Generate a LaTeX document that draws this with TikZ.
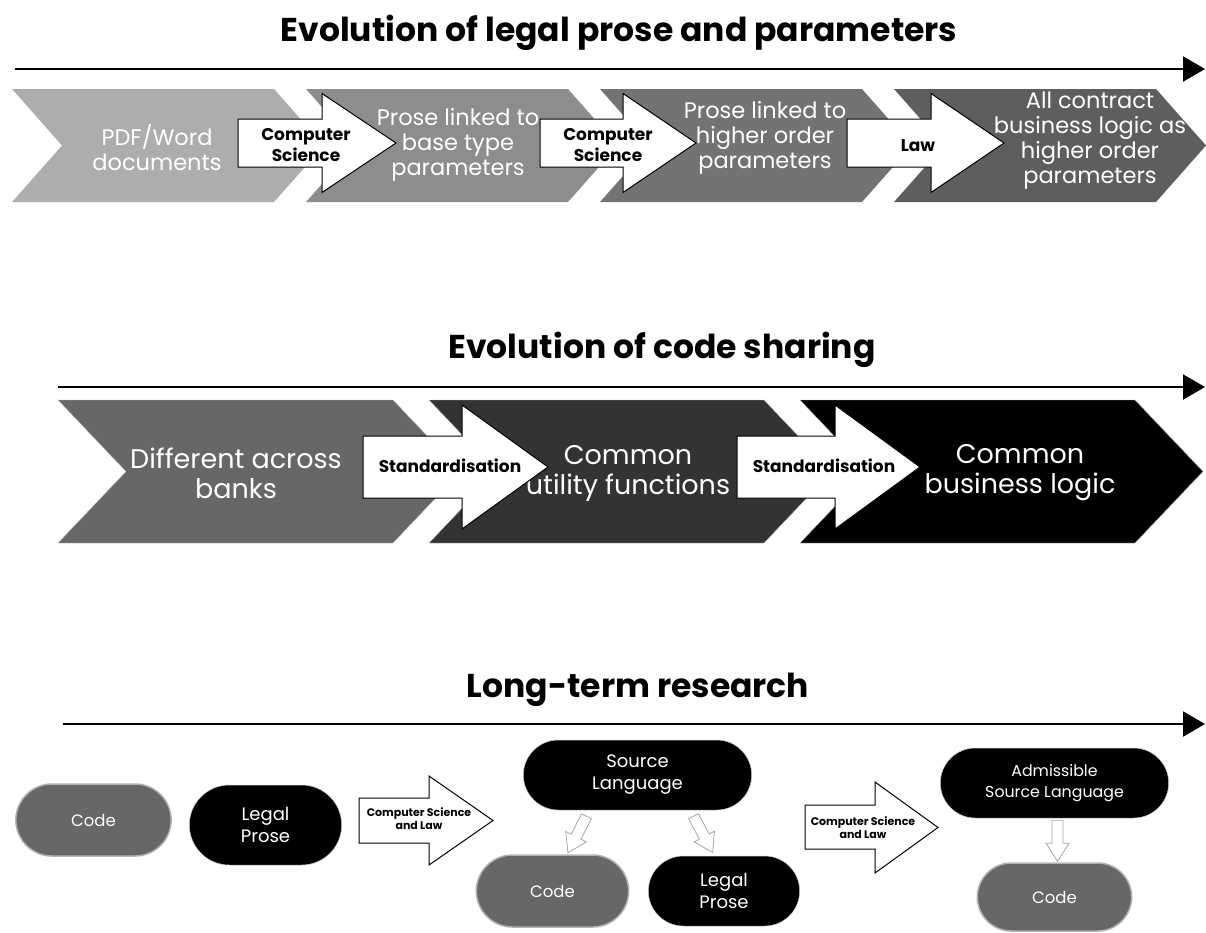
\documentclass[tikz,border=0pt]{standalone}
\usepackage{fontspec}
\setmainfont{Poppins}
\usetikzlibrary{arrows.meta, positioning, shapes.misc, calc}

\definecolor{chevA}{HTML}{ADADAD}
\definecolor{chevB}{HTML}{8D8D8D}
\definecolor{chevC}{HTML}{737373}
\definecolor{chevD}{HTML}{5E5E5E}
\definecolor{codegray}{HTML}{676767}
\definecolor{darkgray}{HTML}{333333}

\begin{document}
\begin{tikzpicture}[x=1pt, y=-1pt, font=\fontsize{20}{25}\selectfont]
\tikzstyle{title} = [font=\fontsize{33}{38}\selectfont\bfseries]
\tikzstyle{timeline} = [line width=2pt, -{Triangle[length=22pt, width=25pt]}]
\tikzstyle{chevtext} = [text=white, align=center, font=\fontsize{22.5}{25}\selectfont]
\tikzstyle{bigtext} = [text=white, align=center, font=\fontsize{27}{30}\selectfont]
\tikzstyle{blockarrow} = [draw=black, fill=white, line width=1pt]
\tikzstyle{label} = [align=center, font=\fontsize{17}{21}\selectfont\bfseries]
\tikzstyle{smalllabel} = [align=center, font=\fontsize{11}{13}\selectfont\bfseries]
\tikzstyle{codepill} = [rounded rectangle, fill=codegray, draw=gray!60, line width=1.5pt,
    text=white, font=\fontsize{16.5}{22}\selectfont]
\tikzstyle{prosepill} = [rounded rectangle, fill=black, draw=gray!40, line width=0.5pt,
    text=white, align=center, font=\fontsize{18}{22}\selectfont]
\tikzstyle{hollow} = [draw=gray!70, fill=white, line width=0.8pt]
\tikzset{hollowarrow/.pic={
  \draw[hollow] (-5.5,0) -- (5.5,0) -- (5.5,23) -- (11.5,23) -- (0,41)
    -- (-11.5,23) -- (-5.5,23) -- cycle;
}}

\useasboundingbox (0,0) rectangle (1206,932);

% legal prose
\node[title] (title1) at (619,33) {Evolution of legal prose and parameters};
\coordinate (line1start) at (15,69);
\coordinate (line1end) at (1205,69);
\draw[timeline] (line1start) -- (line1end);

\fill[chevA] (12,89) -- (274,89) -- (324,145.5) -- (274,202) -- (12,202) -- (62,145.5) -- cycle;
\fill[chevB] (306,89) -- (568,89) -- (618,145.5) -- (568,202) -- (306,202) -- (356,145.5) -- cycle;
\fill[chevC] (600,89) -- (862,89) -- (912,145.5) -- (862,202) -- (600,202) -- (650,145.5) -- cycle;
\fill[chevD] (894,89) -- (1156,89) -- (1206,145.5) -- (1156,202) -- (894,202) -- (944,145.5) -- cycle;

\node[chevtext] (pdf) at (157,147) {PDF/Word\\documents};
\node[chevtext] (base) at (458,145) {Prose linked to\\base type\\parameters};
\node[chevtext] (higher) at (765,138) {Prose linked to\\higher order\\parameters};
\node[chevtext] (logic) at (1090,141) {All contract\\business logic as\\higher order\\parameters};

\draw[blockarrow] (238,119) -- (322,119) -- (322,93.5) -- (396,143) -- (322,192.5) -- (322,167) -- (238,167) -- cycle;
\draw[blockarrow] (540,119) -- (623,119) -- (623,93.5) -- (696,143) -- (623,192.5) -- (623,167) -- (540,167) -- cycle;
\draw[blockarrow] (847,119) -- (931,119) -- (931,93.5) -- (1004,143) -- (931,192.5) -- (931,167) -- (847,167) -- cycle;

\node[label] (cs1) at (306,145) {Computer\\Science};
\node[label] (cs2) at (608,145) {Computer\\Science};
\node[label] (law) at (918,146) {Law};

% code sharing
\node[title] (title2) at (662,350) {Evolution of code sharing};
\coordinate (line2start) at (58,387);
\coordinate (line2end) at (1205,387);
\draw[timeline] (line2start) -- (line2end);

\fill[codegray, draw=gray!50] (58,400) -- (393,400) -- (461,471.5) -- (393,543) -- (58,543) -- (126,471.5) -- cycle;
\fill[darkgray, draw=gray!50] (429,400) -- (764,400) -- (832,471.5) -- (764,543) -- (429,543) -- (497,471.5) -- cycle;
\fill[black, draw=gray!50] (800,400) -- (1135,400) -- (1203,471.5) -- (1135,543) -- (800,543) -- (868,471.5) -- cycle;

\node[bigtext] (banks) at (236,473) {Different across\\banks};
\node[bigtext] (utility) at (628,473) {Common\\utility functions};
\node[bigtext] (business) at (1020,473) {Common\\business logic};

\draw[blockarrow] (363,436) -- (462,436) -- (462,405) -- (548,467) -- (462,529) -- (462,498) -- (363,498) -- cycle;
\draw[blockarrow] (737,436) -- (835,436) -- (835,405) -- (920,467) -- (835,529) -- (835,498) -- (737,498) -- cycle;

\node[label] (std1) at (450,466) {Standardisation};
\node[label] (std2) at (824,466) {Standardisation};

% research
\node[title] (title3) at (638,690) {Long-term research};
\coordinate (line3start) at (63,724);
\coordinate (line3end) at (1205,724);
\draw[timeline] (line3start) -- (line3end);

\node[codepill, minimum width=162pt, minimum height=72pt] (code1) at (93.5,820) {Code};
\node[prosepill, minimum width=159pt, minimum height=80pt] (prose1) at (265.5,825) {Legal\\Prose};

\draw[blockarrow] (359,798) -- (429,798) -- (429,776) -- (493,820.5) -- (429,865) -- (429,843) -- (359,843) -- cycle;
\node[smalllabel] (csl1) at (419,819) {Computer Science\\and Law};

\node[prosepill, minimum width=235pt, minimum height=70pt] (source) at (637.5,775) {Source\\Language};
\node[codepill, minimum width=159pt, minimum height=72pt] (code2) at (552.5,891) {Code};
\node[prosepill, minimum width=158pt, minimum height=70pt] (prose2) at (724,891) {Legal\\Prose};
\path (source.south) ++(-51,6) pic[rotate=-27] {hollowarrow};
\path (source.south) ++(56,6) pic[rotate=28] {hollowarrow};

\draw[blockarrow] (805,805) -- (875,805) -- (875,782) -- (938,827.5) -- (875,873) -- (875,849) -- (805,849) -- cycle;
\node[smalllabel] (csl2) at (863,828) {Computer Science\\and Law};

\node[prosepill, minimum width=235pt, minimum height=70pt,
    font=\fontsize{15.8}{21}\selectfont] (admissible) at (1054.5,783) {Admissible\\Source Language};
\node[codepill, minimum width=161pt, minimum height=68pt] (code3) at (1054.5,897) {Code};
\path (admissible.south) ++(3,2) pic {hollowarrow};

\end{tikzpicture}
\end{document}
